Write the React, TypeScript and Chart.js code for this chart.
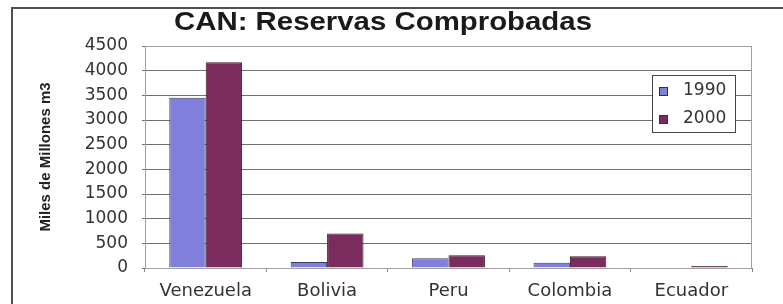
import React, { useEffect, useRef } from "react";
import { Chart, registerables } from "chart.js";

Chart.register(...registerables);

const TITLE = "CAN: Reservas Comprobadas";
const Y_TITLE = "Miles de Millones m3";
const categories = ["Venezuela", "Bolivia", "Peru", "Colombia", "Ecuador"];
const seriesLabels = ["1990", "2000"];
const values1990 = [3450, 120, 200, 105, 0];
const values2000 = [4170, 700, 260, 240, 40];
const yMin = 0;
const yMax = 4500;
const yStep = 500;

const colors = ["#8080dc", "#7a2c5e"];

const decor = {
  id: "decor",
  beforeDraw(chart: any) {
    const ctx = chart.ctx;
    ctx.save();
    ctx.fillStyle = "#ffffff";
    ctx.fillRect(0, 0, chart.width, chart.height);
    ctx.restore();
  },
  afterDraw(chart: any) {
    const ctx = chart.ctx;
    const a = chart.chartArea;
    ctx.save();
    // plot border
    ctx.strokeStyle = "#a0a0a0";
    ctx.lineWidth = 1;
    ctx.strokeRect(a.left + 0.5, a.top + 0.5, a.right - a.left - 1, a.bottom - a.top);

    // outer frame (top + left)
    ctx.strokeStyle = "#505050";
    ctx.lineWidth = 2;
    ctx.beginPath();
    ctx.moveTo(12, chart.height);
    ctx.lineTo(12, 8);
    ctx.lineTo(chart.width, 8);
    ctx.stroke();

    // title (slightly stretched horizontally like the scan)
    ctx.fillStyle = "#1a1a1a";
    ctx.font = "bold 26px 'Liberation Sans', Arial, sans-serif";
    ctx.textAlign = "center";
    ctx.textBaseline = "middle";
    const sx = 1.13;
    ctx.save();
    ctx.scale(sx, 1);
    ctx.fillText(TITLE, 383 / sx, 23);
    ctx.restore();

    // legend box
    const bx = a.right - 100;
    const by = a.top + 29;
    const bw = 83;
    const bh = 57;
    ctx.fillStyle = "#ffffff";
    ctx.fillRect(bx, by, bw, bh);
    ctx.strokeStyle = "#444444";
    ctx.lineWidth = 1;
    ctx.strokeRect(bx + 0.5, by + 0.5, bw, bh);
    ctx.font = "17px 'DejaVu Sans', sans-serif";
    ctx.textAlign = "left";
    ctx.textBaseline = "middle";
    chart.data.datasets.forEach((ds: any, i: number) => {
      const cy = by + 16 + i * 28;
      ctx.fillStyle = ds.backgroundColor;
      ctx.fillRect(bx + 7, cy - 4, 9, 9);
      ctx.strokeStyle = "#333";
      ctx.strokeRect(bx + 7.5, cy - 3.5, 8, 8);
      ctx.fillStyle = "#333333";
      ctx.fillText(ds.label, bx + 31, cy);
    });
    ctx.restore();
  },
};

export default function App() {
  const ref = useRef<HTMLCanvasElement>(null);
  useEffect(() => {
    if (!ref.current) return;
    const chart = new Chart(ref.current, {
      type: "bar",
      data: {
        labels: categories,
        datasets: [
          {
            label: seriesLabels[0],
            data: values1990,
            backgroundColor: colors[0],
            borderColor: "#3c3c5a",
            borderWidth: 1,
            categoryPercentage: 0.6,
            barPercentage: 1.0,
          },
          {
            label: seriesLabels[1],
            data: values2000,
            backgroundColor: colors[1],
            borderColor: "#3a1a2c",
            borderWidth: 1,
            categoryPercentage: 0.6,
            barPercentage: 1.0,
          },
        ],
      },
      options: {
        responsive: false,
        animation: false,
        layout: { padding: { top: 46, right: 31, bottom: 0, left: 0 } },
        plugins: {
          legend: { display: false },
          title: { display: false },
          tooltip: { enabled: false },
        },
        scales: {
          x: {
            grid: {
              display: true,
              drawOnChartArea: false,
              offset: true,
              tickLength: 4,
              color: "#888",
            },
            border: { color: "#888" },
            ticks: {
              color: "#333",
              padding: 9,
              font: { family: "'DejaVu Sans', sans-serif", size: 18 },
            },
            afterFit(scale: any) {
              scale.height = 36;
            },
          },
          y: {
            min: yMin,
            max: yMax,
            grid: { color: "#707070", tickLength: 3 },
            border: { color: "#909090" },
            ticks: {
              stepSize: yStep,
              color: "#333",
              padding: 14,
              font: { family: "'DejaVu Sans', sans-serif", size: 17 },
              callback: (v: any) => String(v),
            },
            title: {
              display: true,
              text: Y_TITLE,
              color: "#222",
              padding: { top: 37, bottom: 0 },
              font: { family: "'Liberation Sans', Arial, sans-serif", size: 15, weight: "bold" },
            },
            afterFit(scale: any) {
              scale.width = 145;
            },
          },
        },
      },
      plugins: [decor],
    });
    return () => chart.destroy();
  }, []);
  return (
    <div style={{ position: "fixed", left: 0, top: 0, width: 783, height: 304, background: "#fff" }}>
      <canvas ref={ref} width={783} height={304} style={{ display: "block" }} />
    </div>
  );
}
